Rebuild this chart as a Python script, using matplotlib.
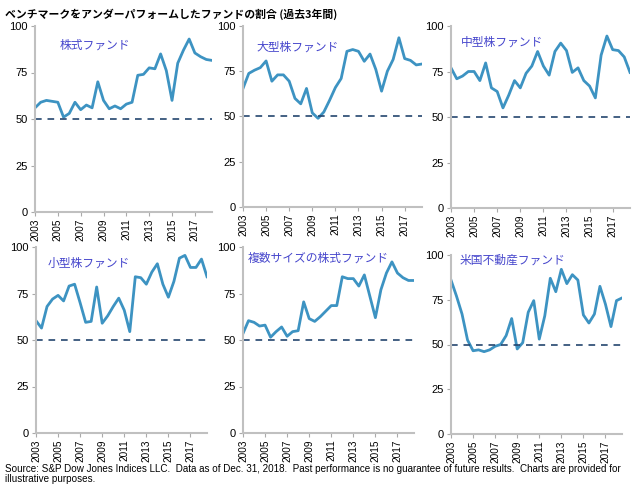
import matplotlib
matplotlib.use('Agg')
import matplotlib.pyplot as plt
import numpy as np

plt.rcParams['font.family'] = ['Liberation Sans', 'Noto Sans CJK JP', 'DejaVu Sans']

# semiannual observations, 2003 .. 2018 H2
periods = 2003 + 0.5 * np.arange(32)

titles = ['株式ファンド', '大型株ファンド', '中型株ファンド',
          '小型株ファンド', '複数サイズの株式ファンド', '米国不動産ファンド']

equity = [56, 59, 60, 59.5, 59, 51, 53, 59, 55, 57.5, 56, 70, 60, 55.5, 57, 55.5,
          58, 59, 73.5, 74, 77.5, 77, 85, 76, 60, 80, 87, 93, 85.5, 83.5, 82, 81.5]
large_cap = [65.5, 73.8, 75.6, 77, 80.7, 69.5, 73, 73, 69.5, 60, 57, 65.5, 52, 49, 52.5, 59,
             66, 71, 86, 87, 86, 80.5, 84.5, 76, 64, 75, 81.5, 93.5, 82, 81, 78.5, 79]
mid_cap = [77, 71, 72.5, 75, 75, 70, 79.7, 66, 64, 55, 62, 70, 66, 74, 78, 86,
           78, 73, 86, 90.6, 86.5, 74.5, 77, 70, 67, 60.5, 84, 94.5, 87, 86.5, 83, 74.5]
small_cap = [60.4, 56.4, 68, 72, 74, 71, 79, 80, 70, 59.5, 60, 78.5, 59, 63, 68, 72.5,
             66, 54.5, 84, 83.5, 80, 86.5, 91, 80, 73, 81.5, 94, 95.5, 89, 89, 93.5, 84]
multi_cap = [53.5, 60.4, 59.5, 57.5, 58, 51.5, 54.5, 57, 52, 54.5, 55, 70.5, 61.5, 60, 62.5, 65.5,
             68.5, 68.5, 84, 83, 83, 79, 85, 73.5, 62, 77, 86, 92, 86, 83.5, 82, 82]
reit = [86, 77, 67, 52.5, 46.5, 47, 46, 47, 49, 50, 55, 64.5, 47.5, 51, 68, 74.5,
        53, 66, 87, 79.5, 92, 84, 89, 86, 66.5, 62, 67, 82.5, 72.5, 60, 74.5, 76]

series = [equity, large_cap, mid_cap, small_cap, multi_cap, reit]
year_ticks = list(range(2003, 2019, 2))
y_ticks = [0, 25, 50, 75, 100]

W, H = 640, 492
# panel boxes in pixels: left, top, right, bottom
boxes = [(35, 26, 212, 212), (243, 26, 422, 207), (451, 26, 630, 208),
         (36, 247, 207, 433), (243, 247, 414, 433), (451, 255, 622, 434)]
# panel label positions in pixels (left x, centre y)
label_pos = [(60, 45), (256, 47), (461, 42), (48, 263), (248, 258), (460, 260)]

fig = plt.figure(figsize=(6.4, 4.92), dpi=100)
fig.text(5 / W, 1 - 14 / H, 'ベンチマークをアンダーパフォームしたファンドの割合 (過去3年間)',
         fontsize=7.8, fontweight='bold', va='center', ha='left',
         family=['Noto Sans CJK JP', 'DejaVu Sans'])

line_color = '#3d93c2'
for (l, t, r, b), (lx, ly), name, vals in zip(boxes, label_pos, titles, series):
    ax = fig.add_axes([l / W, 1 - b / H, (r - l) / W, (b - t) / H])
    ax.plot(periods, vals, color=line_color, lw=2.0)
    ax.axhline(50, color='#24466e', lw=1.2, ls=(0, (4, 3.5)))
    ax.set_xlim(2003, 2018.5)
    ax.set_ylim(0, 100)
    ax.set_xticks(year_ticks)
    ax.set_xticklabels([str(y) for y in year_ticks], rotation=90, fontsize=7.2)
    ax.set_yticks(y_ticks)
    ax.set_yticklabels([str(v) for v in y_ticks], fontsize=8)
    ax.tick_params(length=3, width=0.8, color='#aaaaaa', pad=2)
    ax.tick_params(axis='x', pad=1.5)
    for s in ['top', 'right']:
        ax.spines[s].set_visible(False)
    for s in ['left', 'bottom']:
        ax.spines[s].set_color('#c0c0c0')
        ax.spines[s].set_linewidth(1.5)
    fig.text(lx / W, 1 - ly / H, name, color='#4646cc', fontsize=8.5,
             va='center', ha='left', family=['Noto Sans CJK JP', 'DejaVu Sans'])

fig.text(5 / W, 1 - 464 / H,
         'Source: S&P Dow Jones Indices LLC.  Data as of Dec. 31, 2018.  Past performance is no guarantee of future results.  Charts are provided for\nillustrative purposes.',
         fontsize=7.1, va='top', ha='left', linespacing=1.05,
         family=['Liberation Sans Narrow', 'Liberation Sans', 'DejaVu Sans'])

fig.savefig('out.png', dpi=100)
